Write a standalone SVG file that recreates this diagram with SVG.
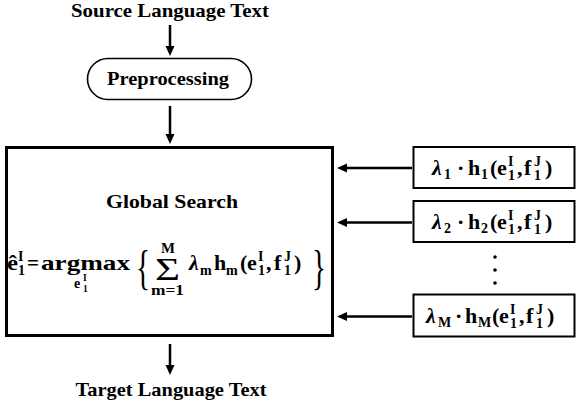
<svg xmlns="http://www.w3.org/2000/svg" width="577" height="409" viewBox="0 0 577 409">
<style>
text{font-family:'Liberation Serif','Times New Roman',serif;font-weight:bold;fill:#000}
.f20{font-size:22px}
.i{font-style:italic}
.s{font-size:14px}
.ss{font-size:9.5px}
.f14{font-size:14px}
.big{font-size:48px;font-weight:normal}
.sig{font-size:31px;font-weight:normal}
.box{fill:#fff;stroke:#000}
.conn{stroke:#000;stroke-width:2.5;fill:none}
</style>
<defs>
<marker id="ah" markerUnits="userSpaceOnUse" markerWidth="12" markerHeight="10" refX="4" refY="5" orient="auto">
<path d="M0,0.5 L10,5 L0,9.5 z" fill="#000"/>
</marker>
</defs>
<rect width="577" height="409" fill="#fff"/>

<g id="source">
<text x="170" y="17" font-size="19" text-anchor="middle" textLength="198" lengthAdjust="spacingAndGlyphs">Source Language Text</text>
</g>

<g id="preprocessing">
<rect x="87.5" y="58.5" width="164" height="41" rx="20.5" ry="20.5" fill="#fff" stroke="#000" stroke-width="1.6"/>
<text x="168" y="85" font-size="19" text-anchor="middle" textLength="122" lengthAdjust="spacingAndGlyphs">Preprocessing</text>
</g>

<g id="global-search">
<rect class="box" x="6.5" y="147.5" width="326" height="188" stroke-width="3"/>
<text x="172" y="208" font-size="19" text-anchor="middle" textLength="132" lengthAdjust="spacingAndGlyphs">Global Search</text>
<text class="f20" x="7" y="270" textLength="11" lengthAdjust="spacingAndGlyphs">ê</text>
<text class="s" x="18" y="261">I</text>
<text class="s" x="18" y="275">1</text>
<text class="f20" x="27" y="270" textLength="12" lengthAdjust="spacingAndGlyphs">=</text>
<text class="f20" x="41" y="270" textLength="89" lengthAdjust="spacingAndGlyphs">argmax</text>
<text class="f14" x="74" y="288">e</text>
<text class="ss" x="83" y="281">I</text>
<text class="ss" x="83" y="292">1</text>
<text class="big" x="136" y="284" textLength="14" lengthAdjust="spacingAndGlyphs">{</text>
<text class="f14" x="161" y="253" textLength="14" lengthAdjust="spacingAndGlyphs">M</text>
<text class="sig" x="155" y="280" textLength="25" lengthAdjust="spacingAndGlyphs">Σ</text>
<text class="f14" x="151" y="295" textLength="33" lengthAdjust="spacingAndGlyphs">m=1</text>
<text class="f20 i" x="189" y="270">λ</text>
<text class="s" x="200" y="275">m</text>
<text class="f20" x="214" y="270">h</text>
<text class="s" x="226" y="275">m</text>
<text class="f20" x="240" y="270">(</text>
<text class="f20" x="247" y="270">e</text>
<text class="s" x="258" y="261">I</text>
<text class="s" x="258" y="275">1</text>
<text class="f20" x="266" y="270">,</text>
<text class="f20" x="274" y="270">f</text>
<text class="s" x="284" y="261">J</text>
<text class="s" x="284" y="275">1</text>
<text class="f20" x="294" y="270">)</text>
<text class="big" x="312" y="284" textLength="14" lengthAdjust="spacingAndGlyphs">}</text>
</g>

<g id="feature-1">
<rect class="box" x="413.5" y="147" width="161" height="41" stroke-width="2"/>
<text class="f20 i" x="432" y="175">λ</text>
<text class="s" x="444" y="179">1</text>
<text class="f20" x="457" y="175">·</text>
<text class="f20" x="468" y="175">h</text>
<text class="s" x="481" y="179">1</text>
<text class="f20" x="490" y="175">(</text>
<text class="f20" x="497" y="175">e</text>
<text class="s" x="508" y="166">I</text>
<text class="s" x="508" y="180">1</text>
<text class="f20" x="517" y="175">,</text>
<text class="f20" x="524" y="175">f</text>
<text class="s" x="534" y="166">J</text>
<text class="s" x="534" y="180">1</text>
<text class="f20" x="545" y="175">)</text>
</g>

<g id="feature-2">
<rect class="box" x="413.5" y="201" width="161" height="41" stroke-width="2"/>
<text class="f20 i" x="432" y="229">λ</text>
<text class="s" x="444" y="233">2</text>
<text class="f20" x="457" y="229">·</text>
<text class="f20" x="468" y="229">h</text>
<text class="s" x="481" y="233">2</text>
<text class="f20" x="490" y="229">(</text>
<text class="f20" x="497" y="229">e</text>
<text class="s" x="508" y="220">I</text>
<text class="s" x="508" y="234">1</text>
<text class="f20" x="517" y="229">,</text>
<text class="f20" x="524" y="229">f</text>
<text class="s" x="534" y="220">J</text>
<text class="s" x="534" y="234">1</text>
<text class="f20" x="545" y="229">)</text>
</g>

<g id="ellipsis">
<circle cx="495" cy="257" r="1.8" fill="#000"/>
<circle cx="495" cy="270" r="1.8" fill="#000"/>
<circle cx="495" cy="283" r="1.8" fill="#000"/>
</g>

<g id="feature-M">
<rect class="box" x="413.5" y="294.5" width="161" height="42" stroke-width="2"/>
<text class="f20 i" x="426" y="323">λ</text>
<text class="s" x="438" y="327">M</text>
<text class="f20" x="455" y="323">·</text>
<text class="f20" x="465" y="323">h</text>
<text class="s" x="478" y="327">M</text>
<text class="f20" x="492" y="323">(</text>
<text class="f20" x="499" y="323">e</text>
<text class="s" x="510" y="314">I</text>
<text class="s" x="510" y="328">1</text>
<text class="f20" x="519" y="323">,</text>
<text class="f20" x="526" y="323">f</text>
<text class="s" x="536" y="314">J</text>
<text class="s" x="536" y="328">1</text>
<text class="f20" x="547" y="323">)</text>
</g>

<g id="target">
<text x="171" y="396" font-size="19" text-anchor="middle" textLength="191" lengthAdjust="spacingAndGlyphs">Target Language Text</text>
</g>

<g id="connectors">
<line class="conn" x1="170" y1="25" x2="170" y2="50" marker-end="url(#ah)"/>
<line class="conn" x1="170" y1="106" x2="170" y2="138" marker-end="url(#ah)"/>
<line class="conn" x1="170" y1="344" x2="170" y2="369" marker-end="url(#ah)"/>
<line class="conn" x1="412" y1="168" x2="343" y2="168" marker-end="url(#ah)"/>
<line class="conn" x1="412" y1="222.5" x2="343" y2="222.5" marker-end="url(#ah)"/>
<line class="conn" x1="412" y1="316.5" x2="343" y2="316.5" marker-end="url(#ah)"/>
</g>
</svg>
